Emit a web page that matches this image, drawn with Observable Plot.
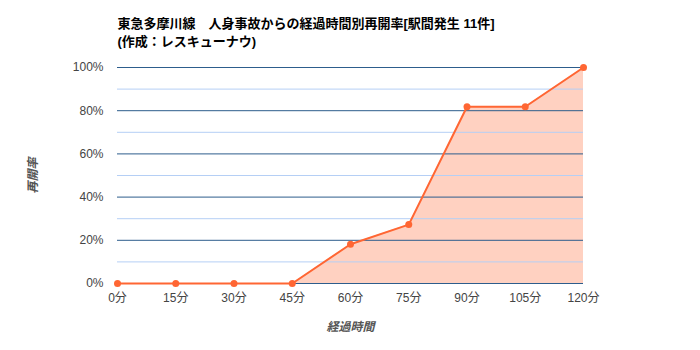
<!DOCTYPE html>
<html><head><meta charset="utf-8">
<script src="https://cdn.jsdelivr.net/npm/d3@7"></script>
<script src="https://cdn.jsdelivr.net/npm/@observablehq/plot@0.6"></script>
<style>
body{margin:0;background:#fff;font-family:Arial,"Liberation Sans","Noto Sans CJK JP",sans-serif;}
#c{position:relative;width:700px;height:350px;}
</style></head><body><div id="c"></div>
<script>
const minutes = [0, 15, 30, 45, 60, 75, 90, 105, 120];
const rates = [0, 0, 0, 0, 18.18, 27.27, 81.82, 81.82, 100];
const xTickLabels = ["0分","15分","30分","45分","60分","75分","90分","105分","120分"];
const majorY = [0, 20, 40, 60, 80, 100];
const minorY = [10, 30, 50, 70, 90];
const titleLines = ["東急多摩川線　人身事故からの経過時間別再開率[駅間発生 11件]", "(作成：レスキューナウ)"];
const xTitle = "経過時間";
const yTitle = "再開率";

const data = minutes.map((m, i) => ({m, r: rates[i]}));
const font = 'Arial,"Liberation Sans","Noto Sans CJK JP",sans-serif';

const chart = Plot.plot({
  width: 700, height: 350,
  marginLeft: 117, marginRight: 117, marginTop: 67, marginBottom: 67,
  style: {fontFamily: font, background: "#fff", overflow: "visible"},
  x: {domain: [0, 120], axis: null},
  y: {domain: [0, 100], axis: null},
  marks: [
    Plot.areaY(data, {x: "m", y: "r", fill: "#ff6633", fillOpacity: 0.3}),
    Plot.ruleY(minorY, {stroke: "#b5cff5", strokeWidth: 1}),
    Plot.ruleY(majorY, {stroke: "#2d5d8c", strokeWidth: 1}),
    Plot.line(data, {x: "m", y: "r", stroke: "#ff6633", strokeWidth: 2}),
    Plot.dot(data, {x: "m", y: "r", fill: "#ff6633", r: 3.5}),
    Plot.text(majorY, {x: 0, y: d => d, text: d => d + "%", textAnchor: "end", dx: -14, fontSize: 12, fill: "#444"}),
    Plot.text(minutes, {x: d => d, y: 0, text: (d, i) => xTickLabels[i], dy: 15, fontSize: 12, fill: "#444"}),
    Plot.text([xTitle], {x: 60, y: 0, text: d => d, dy: 44, fontSize: 12, fontStyle: "italic", fontWeight: "bold", fill: "#555"}),
    Plot.text([yTitle], {x: 0, y: 50, text: d => d, dx: -84, rotate: -90, fontSize: 12, fontStyle: "italic", fontWeight: "bold", fill: "#555"}),
    Plot.text([titleLines.join("\n")], {frameAnchor: "top-left", x: 0, y: 100, text: d => d, textAnchor: "start", lineAnchor: "top", dy: -52, fontSize: 13, fontWeight: "bold", fill: "#000", lineHeight: 1.35})
  ]
});
document.getElementById("c").appendChild(chart);
</script></body></html>
